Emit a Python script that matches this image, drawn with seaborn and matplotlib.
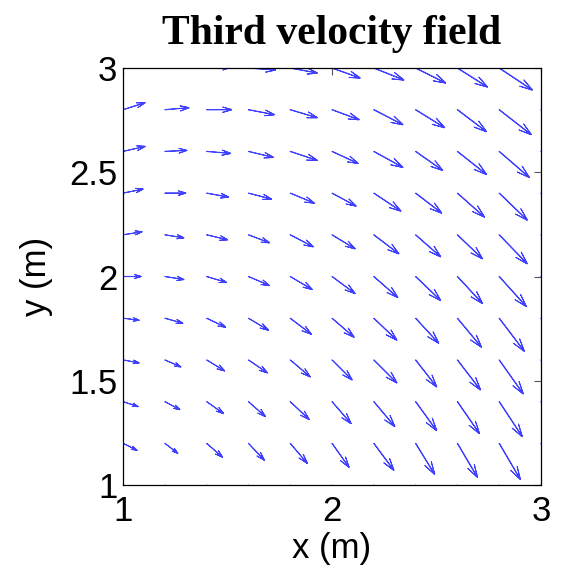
import numpy as np
import pandas as pd
import matplotlib
matplotlib.use("Agg")
import matplotlib.pyplot as plt
import seaborn as sns

# grid coordinates (m)
x_vals = [1.0, 1.2, 1.4, 1.6, 1.8, 2.0, 2.2, 2.4, 2.6, 2.8, 3.0]
y_vals = [1.0, 1.2, 1.4, 1.6, 1.8, 2.0, 2.2, 2.4, 2.6, 2.8, 3.0]

# velocity components, one list per row (y), columns follow x_vals
u_y10 = [0.13, 0.13, 0.15, 0.15, 0.16, 0.17, 0.19, 0.18, 0.19, 0.20, 0.21]
u_y12 = [0.14, 0.13, 0.16, 0.16, 0.17, 0.17, 0.20, 0.19, 0.20, 0.21, 0.22]
u_y14 = [0.15, 0.15, 0.17, 0.17, 0.19, 0.19, 0.21, 0.21, 0.22, 0.23, 0.24]
u_y16 = [0.16, 0.16, 0.18, 0.19, 0.20, 0.20, 0.23, 0.21, 0.23, 0.24, 0.25]
u_y18 = [0.16, 0.18, 0.19, 0.20, 0.21, 0.22, 0.23, 0.23, 0.24, 0.25, 0.26]
u_y20 = [0.18, 0.19, 0.20, 0.21, 0.22, 0.23, 0.24, 0.25, 0.25, 0.27, 0.28]
u_y22 = [0.19, 0.19, 0.21, 0.21, 0.23, 0.23, 0.25, 0.25, 0.25, 0.28, 0.29]
u_y24 = [0.20, 0.21, 0.22, 0.23, 0.24, 0.24, 0.27, 0.26, 0.27, 0.28, 0.29]
u_y26 = [0.22, 0.22, 0.24, 0.25, 0.27, 0.26, 0.29, 0.27, 0.29, 0.30, 0.31]
u_y28 = [0.22, 0.24, 0.25, 0.26, 0.27, 0.27, 0.29, 0.29, 0.29, 0.32, 0.33]
u_y30 = [0.23, 0.25, 0.25, 0.27, 0.27, 0.28, 0.30, 0.30, 0.30, 0.33, 0.34]

v_y10 = [-0.09, -0.12, -0.16, -0.19, -0.22, -0.26, -0.29, -0.33, -0.36, -0.38, -0.40]
v_y12 = [-0.07, -0.10, -0.14, -0.17, -0.20, -0.24, -0.27, -0.31, -0.34, -0.36, -0.38]
v_y14 = [-0.05, -0.08, -0.12, -0.15, -0.18, -0.22, -0.25, -0.29, -0.32, -0.35, -0.37]
v_y16 = [-0.03, -0.07, -0.11, -0.13, -0.17, -0.20, -0.23, -0.27, -0.30, -0.34, -0.36]
v_y18 = [-0.02, -0.05, -0.09, -0.12, -0.16, -0.19, -0.22, -0.25, -0.29, -0.33, -0.35]
v_y20 = [0.00, -0.03, -0.06, -0.09, -0.13, -0.17, -0.21, -0.24, -0.27, -0.30, -0.33]
v_y22 = [0.03, -0.03, -0.05, -0.08, -0.12, -0.14, -0.19, -0.22, -0.24, -0.29, -0.31]
v_y24 = [0.04, 0.00, -0.04, -0.06, -0.10, -0.13, -0.18, -0.20, -0.24, -0.27, -0.30]
v_y26 = [0.05, 0.01, -0.02, -0.06, -0.09, -0.12, -0.16, -0.19, -0.23, -0.26, -0.29]
v_y28 = [0.07, 0.02, 0.00, -0.05, -0.08, -0.10, -0.15, -0.18, -0.22, -0.25, -0.28]
v_y30 = [0.09, 0.04, 0.01, -0.02, -0.05, -0.10, -0.12, -0.15, -0.19, -0.22, -0.25]

x_ticks = [1, 2, 3]
x_tick_labels = ["1", "2", "3"]
y_ticks = [1, 1.5, 2, 2.5, 3]
y_tick_labels = ["1", "1.5", "2", "2.5", "3"]

title_text = "Third velocity field"
x_label = "x (m)"
y_label = "y (m)"

U = np.array([u_y10, u_y12, u_y14, u_y16, u_y18, u_y20,
              u_y22, u_y24, u_y26, u_y28, u_y30])
V = np.array([v_y10, v_y12, v_y14, v_y16, v_y18, v_y20,
              v_y22, v_y24, v_y26, v_y28, v_y30])
X, Y = np.meshgrid(x_vals, y_vals)

sns.set_theme(style="white")
plt.rcParams['font.family'] = ['Liberation Sans', 'DejaVu Sans']

fig = plt.figure(figsize=(5.63, 5.68), dpi=100)
ax = fig.add_axes([123 / 563, 1 - 485 / 568, 418 / 563, 417 / 568])

arrow_color = (0.25, 0.25, 1.0)
ax.quiver(X, Y, U, V, angles='xy', scale_units='xy', scale=2.09,
          facecolor=arrow_color, edgecolor=arrow_color, linewidths=0.7,
          width=0.001, headwidth=18, headlength=30, headaxislength=0,
          minshaft=2.8, minlength=0.1, pivot='tail', clip_on=True)

ax.set_xlim(1, 3)
ax.set_ylim(1, 3)
ax.set_xticks(x_ticks)
ax.set_xticklabels(x_tick_labels)
ax.set_yticks(y_ticks)
ax.set_yticklabels(y_tick_labels)

for s in ax.spines.values():
    s.set_visible(True)
    s.set_color('black')
    s.set_linewidth(0.9)

ax.tick_params(axis='both', which='major', direction='in', length=5,
               width=0.8, color='#555555', top=True, right=True,
               labelsize=25, labelcolor='black')
ax.tick_params(axis='x', pad=7)
ax.tick_params(axis='y', pad=4)

ax.set_xlabel(x_label, fontsize=25, color='black', labelpad=3)
ax.set_ylabel(y_label, fontsize=25, color='black', labelpad=12)
ax.set_title(title_text, fontsize=30, fontweight='bold', color='black',
             family=['Liberation Serif', 'DejaVu Serif'], pad=17)

fig.savefig("out.png", dpi=100, facecolor='white')
